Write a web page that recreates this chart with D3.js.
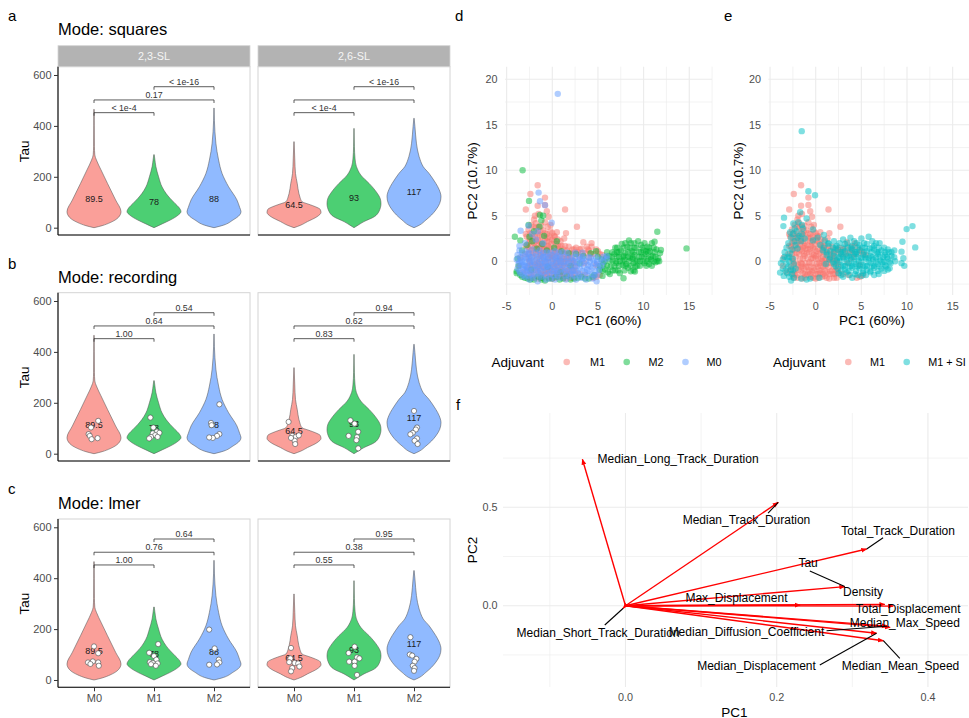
<!DOCTYPE html>
<html><head><meta charset="utf-8"><title>chart</title>
<script src="https://cdn.jsdelivr.net/npm/d3@7/dist/d3.min.js"></script>
<style>
html,body{margin:0;padding:0;background:#fff;}
svg text{font-family:"Liberation Sans",Arial,Helvetica,sans-serif;}
</style></head><body>
<svg id="chart" width="969" height="718" xmlns="http://www.w3.org/2000/svg"></svg>
<script>
// ---------------- DATA ----------------
const facetNames = ["2,3-SL", "2,6-SL"];
const groupNames = ["M0", "M1", "M2"];
const violinColors = ["#F8766D", "#00BA38", "#619CFF"];
const tauTicks = [0, 200, 400, 600];
const medians = [[89.5, 78, 88], [64.5, 93, 117]];

// violin density profiles: [Tau, relative half-width]
const prof23M0 = [[0,0],[8,0.3],[20,0.6],[40,0.9],[63,1],[109,0.8],[174,0.5],[227,0.26],[266,0.09],[286,0.03],[320,0.015],[400,0.01],[465,0.006]];
const prof23M1 = [[0,0],[15,0.3],[30,0.6],[50,0.9],[63,1],[80,0.92],[95,0.78],[115,0.6],[134,0.45],[160,0.3],[200,0.17],[240,0.07],[270,0.03],[287,0.008]];
const prof23M2 = [[0,0],[10,0.35],[30,0.7],[50,0.95],[63,1],[80,0.95],[109,0.85],[161,0.54],[213,0.3],[266,0.17],[300,0.11],[332,0.07],[377,0.035],[420,0.015],[470,0.005]];
const prof26M0 = [[0,0],[10,0.25],[24,0.5],[43,0.85],[60,1],[72,0.97],[82,0.8],[92,0.55],[102,0.3],[120,0.22],[135,0.18],[174,0.12],[213,0.055],[266,0.03],[338,0.005]];
const prof26M1 = [[0,0],[10,0.15],[24,0.37],[43,0.75],[65,0.93],[95,1],[115,0.97],[134,0.87],[155,0.72],[174,0.56],[190,0.4],[207,0.25],[225,0.15],[240,0.09],[270,0.04],[320,0.015],[390,0.005]];
const prof26M2 = [[0,0],[10,0.2],[30,0.44],[50,0.65],[70,0.81],[95,0.95],[122,1],[150,0.93],[174,0.81],[195,0.68],[213,0.56],[240,0.34],[260,0.25],[279,0.19],[305,0.13],[332,0.09],[397,0.035],[430,0.005]];
const violinProfiles = [[prof23M0, prof23M1, prof23M2], [prof26M0, prof26M1, prof26M2]];

const comparisons = [[0, 1], [0, 2], [1, 2]];
const bracketTau = [452, 502, 554];
const pSquares = [["< 1e-4", "0.17", "< 1e-16"], ["< 1e-4", "", "< 1e-16"]];
const pRecording = [["1.00", "0.64", "0.54"], ["0.83", "0.62", "0.94"]];
const pLmer = [["1.00", "0.76", "0.64"], ["0.55", "0.38", "0.95"]];

// per-recording points: [Tau, jitter (category units)]
const recPoints = [
  [
    [[129,.07],[103,-.05],[77,-.09],[70,-.07],[57,-.04],[61,.06]],
    [[142,-.06],[103,-.01],[87,.05],[82,.09],[80,-.02],[73,.02],[66,-.05],[60,-.08],[66,.06]],
    [[194,.09],[121,-.05],[112,-.04],[77,.09],[70,.05],[62,-.02],[64,-.08]]
  ],
  [
    [[125,-.09],[70,-.03],[66,.03],[72,.08],[51,.01],[38,.02],[62,-.05]],
    [[131,-.06],[118,.01],[86,.07],[70,-.09],[65,.05],[53,.04],[21,.07]],
    [[168,0],[103,.05],[95,.03],[82,-.02],[76,-.06],[60,.05],[51,.01],[38,.06]]
  ]
];
const lmerPoints = [
  [
    [[132,0],[105,.07],[69,-.1],[73,-.02],[69,.07],[56,.08],[63,-.06]],
    [[141,.07],[107,-.08],[94,0],[80,.04],[70,-.07],[67,-.02],[65,.06],[62,-.05],[56,.03]],
    [[198,-.08],[124,.01],[80,.08],[69,.09],[61,.05],[60,-.08]]
  ],
  [
    [[126,-.05],[85,-.06],[67,.01],[65,.07],[53,.09],[47,-.03],[34,-.05],[70,-.08]],
    [[131,.01],[106,-.09],[89,.05],[72,-.08],[72,.01],[85,.09],[56,.01],[20,.05]],
    [[168,-.06],[100,-.07],[96,-.03],[83,.04],[72,.01],[56,-.02],[47,.01],[36,0]]
  ]
];

// PCA scores
const pcaM1 = [
[-1.6,8.36],[-2.4,7.4],[-0.8,7.0],[-2.9,5.7],[1.4,5.7],[2.7,3.8],[1.5,3.1],[1.3,2.5],[3.4,2.1],[4.3,2.0],[4.3,1.6],[-0.6,5.5],[-0.8,6.2],[-0.4,4.9],[-1.5,5.2],[-1.6,6.1],[-2.0,4.6],[-0.2,4.0],
[-2.6,3.5],[-2.2,3.0],[-1.8,3.6],[-1.4,2.9],[-1.0,3.4],[-0.6,3.0],[-0.2,3.3],[0.2,2.8],[0.6,2.4],[-2.5,2.5],[-2.0,2.0],[-1.6,2.4],[-1.2,2.0],[-0.8,2.5],[-0.4,2.1],[0.0,2.4],[0.4,1.9],[0.8,1.6],[1.2,1.3],[-2.7,1.6],[-2.3,1.2],[-1.9,1.5],[-1.5,1.1],[-1.1,1.4],[-0.7,1.0],[-0.3,1.5],[0.1,1.1],[0.5,0.9],[0.9,1.0],[1.6,1.2],[2.0,0.9],[2.4,1.3],[2.8,1.0],[3.2,1.4],[3.6,0.9],[4.0,1.2],[4.5,0.8],[5.0,1.1],[5.5,0.7],[1.8,1.6],[2.6,1.5],[3.8,1.6],[-3.0,0.8],[-3.5,0.4],[-1.8,4.2],[-1.2,3.9],[-0.8,4.3],[-2.3,4.0],[-2.9,3.0],[0.5,3.2],[-1.9,5.0],
[-3.6,-0.5],[-3.2,-1.2],[-2.0,-1.8],[-1.0,-1.5],[0.0,-1.9],[1.0,-1.6],[2.0,-1.8],[3.0,-1.4],[4.5,-1.8],[-0.5,0.3],[0.5,-0.5],[1.5,0.2],[-1.5,-0.3],[-2.5,0.0],[2.5,-0.6],[3.5,-0.2],[4.8,-0.4],
[-2.4,-0.4],[-1.9,-0.9],[-1.4,-1.3],[-0.9,-0.6],[-0.4,-1.1],[0.1,-0.3],[0.6,-1.0],[1.1,-0.5],[1.6,-1.1],[2.1,-0.2],[-2.2,0.5],[-1.7,0.2],[-1.2,0.6],[-0.7,-0.1],[-0.2,0.7],[0.3,0.2],[0.8,0.5],[1.3,-0.2],[1.8,0.4],[2.3,0.1],[-2.0,-1.5],[-1.5,-1.9],[-0.5,-1.7],[0.5,-1.3],[1.5,-1.9],[2.5,-1.3],[-1.0,0.9],[0.0,0.6],[1.0,0.1],[-2.8,-1.0],[-0.2,-0.7],[0.7,-1.7],[1.9,-1.4],[-1.3,-0.8],
[-2.1,2.6],[-1.3,3.3],[-0.5,2.6],[-1.7,1.8],[-0.9,1.8],[-0.1,1.9],[-2.6,2.0],[-1.4,1.5],[0.3,1.4],[-0.6,1.4],[-2.1,0.9],[-0.3,0.4],[0.7,0.0],[-1.1,-0.2],[1.4,0.8],[-1.9,-0.4],[0.2,-1.4],[-0.8,-1.2],[1.2,-1.2],[-2.5,-1.5],[2.2,-1.0],[4.0,0.4],[3.0,0.5],[5.2,-1.5],[3.6,-1.5],[4.85,-1.7],
[-2.0,3.8],[-1.5,3.8],[-0.5,3.8],[-2.4,3.1],[-1.6,3.1],[-0.8,3.1],[0.0,3.1],[-2.8,2.7],[-1.9,2.7],[-1.1,2.7],[-0.3,2.7],[0.3,2.7],
[-2.4,2.2],[-1.8,2.2],[-1.4,2.2],[-0.6,2.2],[0.2,2.2],[0.9,2.2],[-2.9,1.7],[-2.3,1.7],[-1.2,1.7],[-0.5,1.7],[0.6,1.7],[1.0,1.7],[1.4,1.7],
[-2.5,1.3],[-1.7,1.3],[-0.9,1.3],[-0.1,1.3],[0.7,1.3],[2.2,1.3],[3.0,1.3],[3.9,1.3],[4.8,1.3],
[-2.6,0.8],[-1.8,0.8],[-1.3,0.8],[-0.4,0.8],[0.3,0.8],[1.2,0.8],[1.9,0.8],[2.6,0.8],[3.3,0.8],[4.2,0.8],[5.2,0.8],
[-2.6,0.3],[-1.4,0.3],[-0.9,0.3],[0.0,0.3],[0.6,0.3],[1.1,0.3],[1.6,0.3],[2.1,0.3],
[-2.2,-0.2],[-1.6,-0.2],[-0.4,-0.2],[0.4,-0.2],[0.9,-0.2],[1.7,-0.2],[2.4,-0.2],
[-2.7,-0.6],[-1.6,-0.6],[-1.1,-0.6],[-0.5,-0.6],[0.2,-0.6],[0.8,-0.6],[1.4,-0.6],[2.0,-0.6],
[-2.3,-1.0],[-1.6,-1.0],[-0.7,-1.0],[-0.1,-1.0],[0.4,-1.0],[1.0,-1.0],[1.8,-1.0],[2.4,-1.0],
[-2.3,-1.4],[-1.2,-1.4],[-0.6,-1.4],[0.0,-1.4],[0.8,-1.4],[1.5,-1.4],[2.1,-1.4],
[-2.4,-1.8],[-1.2,-1.8],[-0.3,-1.8],[0.3,-1.8],[1.2,-1.8],[2.3,-1.8]
];
const pcaM2 = [
[-3.25,10.0],[-2.55,6.64],[-1.0,5.0],[-1.35,5.1],[-2.6,4.0],[-4.1,2.7],[14.7,1.42],[11.5,3.25],[7.8,-1.86],[9.05,-1.13],
[5.2,-0.9],[5.6,-0.3],[5.9,0.4],[6.1,-1.2],[6.4,-0.6],[6.6,0.1],[6.8,0.8],[7.0,-0.2],[7.2,-1.0],[7.3,0.5],[7.5,1.2],[7.7,-0.4],[7.9,0.2],[8.0,0.9],[8.2,1.6],[8.3,-0.7],[8.5,0.4],[8.6,2.0],[8.7,1.1],[8.9,-0.2],[9.0,0.7],[9.2,1.5],[9.3,0.1],[9.5,1.0],[9.6,-0.5],[9.7,1.8],[9.8,0.5],[10.0,1.2],[10.1,-0.2],[10.2,0.8],[10.4,1.6],[10.5,0.3],[10.7,1.1],[10.9,2.0],[11.0,0.6],[11.2,2.15],[11.3,-0.1],[11.4,1.3],[11.6,0.33],[11.8,0.9],[11.9,1.24],[11.5,0.0],[10.6,-0.3],[6.0,1.0],[6.9,1.5],[7.6,1.9],[8.4,2.3],[9.4,2.2],[5.0,0.5],[4.6,-1.5],[5.5,-1.6],[6.3,-1.4],
[-3.9,-1.1],[-3.5,-1.5],[-3.0,-1.8],[-2.4,-2.0],[-1.6,-1.7],[-0.8,-2.1],[0.0,-1.9],[0.8,-2.0],[1.6,-1.6],[2.4,-1.9],[3.2,-1.7],[4.0,-1.9],[-3.7,-0.5],[-3.8,0.3],[-3.3,1.2],[-2.8,1.8],[-2.2,2.2],[-1.7,1.4],[-1.1,1.9],[-0.6,1.2],[0.2,1.5],[1.0,1.1],[1.8,0.9],[2.6,0.8],[3.4,0.6],[4.2,0.9],[4.8,1.1],[-2.0,3.3],[-1.4,3.8],[-0.9,2.8],[-3.5,2.3],[-2.5,2.7],[-1.2,4.5],[0.5,2.2],[2.0,-0.5],[3.0,-0.2],[-0.5,-0.6],[-2.3,-0.9],[0.9,-1.2],
[5.8,-0.9],[6.6,-1.0],[7.4,0.0],[8.1,-0.3],[8.8,0.3],[9.9,0.0],[10.8,0.2],[7.1,1.0],[7.8,0.6],[9.1,-0.6],[6.2,0.6],[5.4,0.2],[8.6,-1.1],[10.3,1.1],[11.1,1.5],[7.4,-1.3],[-3.9,-1.3],[-1.2,-2.0],
[5.5,-1.0],[6.9,-1.0],[7.9,-1.0],[8.9,-1.0],
[5.2,-0.5],[6.0,-0.5],[6.8,-0.5],[7.3,-0.5],[8.0,-0.5],[8.6,-0.5],[9.3,-0.5],[10.3,-0.5],[10.9,-0.5],
[5.7,0.0],[6.3,0.0],[7.0,0.0],[7.7,0.0],[8.4,0.0],[9.1,0.0],[9.6,0.0],[10.4,0.0],[11.1,0.0],[11.7,0.0],
[6.5,0.5],[7.1,0.5],[7.8,0.5],[8.3,0.5],[8.8,0.5],[9.5,0.5],[10.1,0.5],[10.8,0.5],[11.3,0.5],
[6.6,1.0],[7.3,1.0],[8.3,1.0],[8.9,1.0],[9.7,1.0],[10.5,1.0],[11.2,1.0],
[7.1,1.5],[7.8,1.5],[8.5,1.5],[9.0,1.5],[9.9,1.5],[10.6,1.5],[8.0,2.0],[9.0,2.0],[10.1,2.0],
[-3.3,-1.7],[-2.7,-1.9],[-2.0,-2.0],[-1.2,-1.8],[-0.4,-1.9],[0.4,-1.7],[1.2,-1.9],[2.0,-2.0],[2.8,-1.8],[3.6,-1.9],[4.4,-1.7]
];
const pcaM0 = [
[0.6,18.4],[-1.5,7.55],[-1.35,6.6],[-0.8,6.17],[-0.07,4.23],[-3.47,3.36],[-2.6,3.9],[-2.2,3.0],[-1.8,2.4],[-3.0,2.0],[-1.0,2.0],[5.95,0.58],[4.85,-2.2],[-1.6,3.3],[-3.6,1.7],
[-3.6,1.2],[-2.9,1.1],[-2.2,1.3],[-1.4,1.2],[-0.6,1.0],[0.3,1.1],[1.1,1.0],
[-3.8,0.7],[-3.2,0.6],[-2.6,0.8],[-2.0,0.6],[-1.3,0.7],[-0.7,0.5],[0.0,0.7],[0.6,0.6],[1.3,0.5],[2.1,0.4],[2.9,0.5],[4.2,0.4],[5.6,0.5],
[-3.9,0.2],[-3.4,0.1],[-2.8,0.3],[-2.3,0.1],[-1.7,0.2],[-1.1,0.1],[-0.5,0.3],[0.1,0.1],[0.8,0.2],[1.5,0.0],[2.2,0.1],[3.0,0.2],[3.7,0.0],[4.5,0.1],[5.3,0.2],[6.0,0.3],
[-3.7,-0.3],[-3.1,-0.4],[-2.5,-0.2],[-1.9,-0.4],[-1.3,-0.3],[-0.8,-0.2],[-0.2,-0.4],[0.4,-0.3],[1.0,-0.4],[1.7,-0.3],[2.4,-0.5],[3.1,-0.3],[3.9,-0.4],[4.6,-0.2],[5.4,-0.5],
[-3.8,-0.8],[-3.2,-0.9],[-2.7,-0.7],[-2.1,-0.9],[-1.5,-0.8],[-0.9,-0.7],[-0.3,-0.9],[0.3,-0.8],[0.9,-0.9],[1.6,-0.8],[2.3,-1.0],[3.0,-0.8],[3.8,-0.9],[4.4,-0.7],[5.1,-1.0],
[-3.5,-1.3],[-2.9,-1.2],[-2.3,-1.4],[-1.6,-1.3],[-1.0,-1.2],[-0.3,-1.4],[0.5,-1.3],[1.2,-1.2],[2.0,-1.4],[2.8,-1.3],[3.6,-1.2],[4.3,-1.4],[4.9,-1.5],
[-3.0,-1.7],[-2.1,-1.8],[-1.2,-1.7],[-0.2,-1.9],[0.9,-1.8],[2.0,-1.7],[3.2,-1.8],[4.4,-1.9],
[-1.6,-2.2],[-3.3,-0.1],[-2.0,-0.1],[-0.5,-0.1],[1.2,-0.1],[2.7,-0.1],[-3.0,-0.5],[-1.7,-1.0],[0.0,-1.1],[1.9,-1.1],[-2.5,0.5],[-1.0,0.5],[0.4,0.4],[-2.7,-1.0],[-0.6,-0.6],[3.4,0.3],[4.9,-0.3],
[-3.3,0.95],[-2.6,0.95],[-1.8,0.95],[-1.0,0.95],[-0.2,0.95],[0.7,0.95],[1.6,0.95],[2.5,0.95],[3.3,0.95],
[-3.5,0.45],[-2.9,0.45],[-2.3,0.45],[-1.6,0.45],[-1.0,0.45],[-0.4,0.45],[0.3,0.45],[0.9,0.45],[1.7,0.45],[2.5,0.45],[3.3,0.45],[4.0,0.45],[4.8,0.45],
[-3.6,-0.05],[-3.0,-0.05],[-2.4,-0.05],[-1.4,-0.05],[-0.8,-0.05],[-0.1,-0.05],[0.5,-0.05],[0.9,-0.05],[1.8,-0.05],[2.4,-0.05],[3.3,-0.05],[4.1,-0.05],[4.9,-0.05],[5.6,-0.05],
[-3.4,-0.55],[-2.8,-0.55],[-2.2,-0.55],[-1.6,-0.55],[-1.0,-0.55],[-0.4,-0.55],[0.1,-0.55],[0.7,-0.55],[1.3,-0.55],[2.0,-0.55],[2.7,-0.55],[3.5,-0.55],[4.2,-0.55],[5.0,-0.55],
[-3.6,-1.05],[-3.0,-1.05],[-2.4,-1.05],[-1.3,-1.05],[-0.6,-1.05],[0.2,-1.05],[0.6,-1.05],[1.4,-1.05],[2.2,-1.05],[2.6,-1.05],[3.3,-1.05],[4.0,-1.05],[4.7,-1.05],
[-3.2,-1.55],[-2.6,-1.55],[-2.0,-1.55],[-1.4,-1.55],[-0.7,-1.55],[0.1,-1.55],[0.6,-1.55],[1.5,-1.55],[2.4,-1.55],[3.0,-1.55],[3.8,-1.55],[4.6,-1.55],
[-2.5,-2.0],[-0.7,-2.0],[0.3,-2.0],[1.5,-2.0],[2.6,-2.0],[3.7,-2.0]
];
const pcaM1SI = [
[-1.53,14.3],[-0.8,7.7],[-0.07,7.26],[-3.47,4.8],[-3.54,3.87],[9.96,3.54],[10.6,3.87],[10.9,1.53],[9.5,2.15],[9.6,0.33],[9.4,1.06],[8.1,-0.77],[-1.7,5.4],[-2.45,4.16],[-2.7,-2.1],[-3.9,-1.24],[9.4,-0.2],[9.7,-0.5],[8.7,0.0],[-1.9,4.3],[-1.0,4.7],[-1.5,4.0],
[-3.8,-0.2],[-3.4,0.5],[-3.0,-0.6],[-2.8,0.9],[-3.2,1.5],[-2.6,-1.4],[-2.3,2.2],[-3.6,0.2],[-2.9,-1.7],[-2.2,-0.8],[-3.3,-1.0],[-2.5,0.3],[-1.8,2.8],[-2.1,3.3],[-1.5,3.0],[-1.2,2.5],[-2.7,2.6],[-3.0,2.0],[-2.4,-1.8],[-1.6,-1.9],[-1.0,-2.0],[-2.0,1.4],[-3.5,-1.6],[-2.6,1.3],[-2.3,3.6],[-1.4,3.6],[-2.8,3.2],[0.2,2.6],[0.9,2.9],[-0.3,3.5],[-2.9,0.0],[-2.4,-0.3],[-3.1,0.4],[-2.7,-0.9],
[1.0,2.3],[2.0,2.2],[3.0,2.4],[4.2,2.2],[5.0,2.5],[5.8,2.7],
[0.5,1.8],[1.4,1.9],[2.3,1.7],[3.2,1.9],[4.0,1.7],[4.8,1.8],[5.6,1.9],[6.4,1.7],
[0.8,1.2],[1.6,1.1],[2.4,1.3],[3.2,1.1],[4.0,1.3],[4.8,1.2],[5.6,1.1],[6.4,1.3],[7.2,1.2],[7.9,1.3],
[1.2,0.7],[2.0,0.6],[2.8,0.8],[3.6,0.6],[4.4,0.8],[5.2,0.7],[6.0,0.6],[6.8,0.8],[7.6,0.7],[8.3,0.6],
[1.5,0.2],[2.3,0.1],[3.1,0.3],[3.9,0.2],[4.7,0.1],[5.5,0.3],[6.3,0.2],[7.1,0.1],[7.9,0.3],
[2.0,-0.3],[2.8,-0.4],[3.6,-0.2],[4.4,-0.3],[5.2,-0.4],[6.0,-0.2],[6.8,-0.3],[7.6,-0.4],[8.2,-0.2],
[2.4,-0.8],[3.2,-0.9],[4.0,-0.7],[4.8,-0.8],[5.6,-0.9],[6.4,-0.7],[7.2,-0.8],[7.9,-0.9],
[2.5,-1.3],[3.4,-1.2],[4.3,-1.4],[5.2,-1.3],[6.0,-1.2],[6.9,-1.4],
[3.0,-1.7],[4.0,-1.8],[5.0,-1.6],
[1.9,1.5],[2.7,1.0],[3.5,1.5],[4.3,1.0],[5.1,1.5],[5.9,1.4],[6.7,1.0],[2.6,0.4],[3.4,0.5],[4.2,0.5],[5.0,0.4],[5.8,0.4],[6.6,0.4],[7.4,0.5],[3.2,-0.5],[4.0,-0.5],[4.8,-0.5],[5.6,-0.5],[6.4,-0.5],[7.3,-0.1],[8.0,1.0],[8.6,1.2],[7.0,2.0],[6.2,2.2],[2.6,2.0],[3.8,2.6],[1.1,-0.3],[-0.3,2.3],[0.4,-1.8],[-0.6,-1.9],
[1.4,2.0],[3.5,2.0],[4.5,2.0],[5.3,2.0],[6.6,2.0],
[0.9,1.5],[2.2,1.5],[3.0,1.5],[3.9,1.5],[4.6,1.5],[5.4,1.5],[6.2,1.5],[6.9,1.5],[7.5,1.5],
[1.2,1.0],[2.0,1.0],[3.0,1.0],[3.8,1.0],[4.5,1.0],[5.3,1.0],[6.1,1.0],[6.9,1.0],[7.6,1.0],[8.3,1.0],
[1.6,0.45],[2.4,0.45],[3.0,0.45],[3.8,0.45],[4.6,0.45],[5.4,0.45],[6.2,0.45],[7.0,0.45],[7.8,0.45],[8.6,0.45],
[1.9,-0.05],[2.6,-0.05],[3.4,-0.05],[4.2,-0.05],[5.0,-0.05],[5.8,-0.05],[6.6,-0.05],[7.5,-0.05],[8.1,-0.05],
[2.2,-0.55],[3.0,-0.55],[3.8,-0.55],[4.6,-0.55],[5.4,-0.55],[6.2,-0.55],[7.0,-0.55],[7.7,-0.55],
[2.8,-1.05],[3.6,-1.05],[4.4,-1.05],[5.2,-1.05],[6.0,-1.05],[6.8,-1.05],[7.5,-1.05],
[2.8,-1.5],[3.7,-1.5],[4.6,-1.5],[5.5,-1.5],[6.4,-1.5],
[-3.6,-0.8],[-3.2,-0.3],[-2.9,0.5],[-3.4,1.0],[-2.5,-1.0],[-3.1,-1.3],[-2.2,1.8],[-2.0,2.6],[-1.6,2.2],[-2.5,3.0]
];
const pcXTicks = [-5, 0, 5, 10, 15];
const pcXTickLabels = ["-5", "0", "5", "10", "15"];
const pcYTicks = [0, 5, 10, 15, 20];
const pcGridMinor = [-2.5, 2.5, 7.5, 12.5, 17.5];

// loadings biplot
const varNames = ["Median_Long_Track_Duration","Median_Track_Duration","Total_Track_Duration","Tau","Density","Max_Displacement","Total_Displacement","Median_Max_Speed","Median_Diffusion_Coefficient","Median_Short_Track_Duration","Median_Displacement","Median_Mean_Speed"];
const loadPC1 = [-0.057, 0.202, 0.319, 0.290, 0.343, 0.231, 0.354, 0.350, 0.346, -0.003, 0.332, 0.341];
const loadPC2 = [0.744, 0.525, 0.288, 0.097, 0.007, 0.003, -0.002, -0.110, -0.104, -0.013, -0.140, -0.178];
const labelPC1 = [0.0696, 0.160, 0.3606, 0.2415, 0.3143, 0.1468, 0.3738, 0.3694, 0.160, -0.0362, 0.1733, 0.3638];
const labelPC2 = [0.744, 0.435, 0.381, 0.2155, 0.0711, 0.0407, -0.0142, -0.0854, -0.1321, -0.1372, -0.3064, -0.3028];
const leaderPC1 = [null, 0.1886, 0.3407, 0.2438, null, null, null, null, 0.2659, -0.0274, 0.257, 0.3628];
const leaderPC2 = [null, 0.4705, 0.3455, 0.1763, null, null, null, null, -0.127, -0.098, -0.3013, -0.2673];
const fXMajor = [0, 0.2, 0.4], fXMinor = [-0.1, 0.1, 0.3];
const fYMajor = [0, 0.5], fYMinor = [-0.25, 0.25, 0.75];

// ---------------- DRAW ----------------
const svg = d3.select("#chart");
svg.append("rect").attr("width", 969).attr("height", 718).attr("fill", "#fff");
const defs = svg.append("defs");
defs.append("marker").attr("id", "arrowhead").attr("viewBox", "0 0 10 10")
  .attr("refX", 9).attr("refY", 5).attr("markerWidth", 6).attr("markerHeight", 6)
  .attr("markerUnits", "userSpaceOnUse").attr("orient", "auto")
  .append("path").attr("d", "M0,1 L10,5 L0,9 Z").attr("fill", "#FF0000");

const facetRanges = [[58, 250], [258, 450]];
const PANEL_H = 168.3;

function violinRow(o) {
  const top = o.top, bottom = top + PANEL_H;
  const y = d3.scaleLinear().domain([-28.7, 632.6]).range([bottom, top]);
  const g = svg.append("g");
  g.append("text").attr("x", 8).attr("y", o.letterY).attr("font-size", 15).attr("fill", "#000").text(o.letter);
  g.append("text").attr("x", 58).attr("y", o.titleY).attr("font-size", 16.5).attr("fill", "#000").text(o.title);
  g.append("text").attr("transform", `translate(29,${(y(0) + y(600)) / 2}) rotate(-90)`)
    .attr("text-anchor", "middle").attr("font-size", 13.5).attr("fill", "#000").text("Tau");

  facetRanges.forEach((fr, fi) => {
    const x = d3.scalePoint().domain(groupNames).range(fr).padding(0.6);
    const half = x.step() * 0.45;
    const fg = g.append("g");
    fg.append("rect").attr("x", fr[0]).attr("y", top).attr("width", fr[1] - fr[0]).attr("height", PANEL_H)
      .attr("fill", "none").attr("stroke", "#d4d4d4").attr("stroke-width", 1);
    if (o.strip) {
      fg.append("rect").attr("x", fr[0]).attr("y", top - 21).attr("width", fr[1] - fr[0]).attr("height", 21)
        .attr("fill", "#b3b3b3").attr("stroke", "#d4d4d4").attr("stroke-width", 0.8);
      fg.append("text").attr("x", (fr[0] + fr[1]) / 2).attr("y", top - 6.8).attr("text-anchor", "middle")
        .attr("font-size", 10.8).attr("fill", "#f5f5f5").text(facetNames[fi]);
    }
    groupNames.forEach((gn, gi) => {
      const cx = x(gn);
      const area = d3.area().curve(d3.curveMonotoneY)
        .y(d => y(d[0])).x0(d => cx - half * d[1]).x1(d => cx + half * d[1]);
      fg.append("path").attr("d", area(violinProfiles[fi][gi]))
        .attr("fill", violinColors[gi]).attr("fill-opacity", 0.7)
        .attr("stroke", "#555").attr("stroke-width", 0.55);
    });
    groupNames.forEach((gn, gi) => {
      fg.append("text").attr("x", x(gn)).attr("y", y(medians[fi][gi]) - 3)
        .attr("text-anchor", "middle").attr("font-size", 9).attr("fill", "#1a1a1a").text(medians[fi][gi]);
    });
    if (o.pts) {
      groupNames.forEach((gn, gi) => {
        o.pts[fi][gi].forEach(p => {
          fg.append("circle").attr("cx", x(gn) + p[1] * x.step()).attr("cy", y(p[0])).attr("r", 2.6)
            .attr("fill", "#fff").attr("stroke", "#444").attr("stroke-width", 0.6);
        });
      });
    }
    comparisons.forEach((c, ci) => {
      const xa = x(groupNames[c[0]]), xb = x(groupNames[c[1]]);
      const yb = y(bracketTau[ci]), yt = y(bracketTau[ci] - 12);
      fg.append("path").attr("d", `M${xa},${yt}V${yb}H${xb}V${yt}`).attr("fill", "none")
        .attr("stroke", "#333").attr("stroke-width", 0.8);
      fg.append("text").attr("x", (xa + xb) / 2).attr("y", yb - 1.8).attr("text-anchor", "middle")
        .attr("font-size", 8.8).attr("fill", "#333").text(o.pv[fi][ci]);
    });
    fg.append("line").attr("x1", fr[0]).attr("x2", fr[1]).attr("y1", bottom).attr("y2", bottom)
      .attr("stroke", "#000").attr("stroke-width", 1.1);
    if (fi === 0) {
      fg.append("line").attr("x1", fr[0]).attr("x2", fr[0]).attr("y1", top).attr("y2", bottom)
        .attr("stroke", "#000").attr("stroke-width", 1.1);
      const ax = fg.append("g").attr("transform", `translate(${fr[0]},0)`)
        .call(d3.axisLeft(y).tickValues(tauTicks).tickSize(4).tickPadding(2.5));
      ax.select(".domain").remove();
      ax.selectAll(".tick line").attr("stroke", "#333");
      ax.selectAll(".tick text").attr("fill", "#4d4d4d").attr("font-size", 11).attr("font-family", null);
    }
    if (o.xaxis) {
      const ax = fg.append("g").attr("transform", `translate(0,${bottom})`)
        .call(d3.axisBottom(x).tickSize(4).tickPadding(2.5));
      ax.select(".domain").remove();
      ax.selectAll(".tick line").attr("stroke", "#333");
      ax.selectAll(".tick text").attr("fill", "#4d4d4d").attr("font-size", 11).attr("font-family", null);
    }
  });
}

violinRow({top: 66.7, title: "Mode: squares", titleY: 35, letter: "a", letterY: 21, pv: pSquares, pts: null, strip: true, xaxis: false});
violinRow({top: 292.7, title: "Mode: recording", titleY: 283, letter: "b", letterY: 269, pv: pRecording, pts: recPoints, strip: false, xaxis: false});
violinRow({top: 519, title: "Mode: lmer", titleY: 508.5, letter: "c", letterY: 494, pv: pLmer, pts: lmerPoints, strip: false, xaxis: true});

// ---- scatter panels d, e ----
function scatterPanel(o) {
  const g = svg.append("g");
  const x = d3.scaleLinear().domain([-5.18, 17.49]).range([o.left, o.left + 207]);
  const y = d3.scaleLinear().domain([-3.70, 21.38]).range([295, 66.7]);
  const [x0, x1] = x.range(), [y0, y1] = y.range();
  pcGridMinor.forEach(v => {
    g.append("line").attr("x1", x(v)).attr("x2", x(v)).attr("y1", y0).attr("y2", y1).attr("stroke", "#ebebeb").attr("stroke-width", 0.6);
    g.append("line").attr("x1", x0).attr("x2", x1).attr("y1", y(v)).attr("y2", y(v)).attr("stroke", "#ebebeb").attr("stroke-width", 0.6);
  });
  pcXTicks.forEach(v => g.append("line").attr("x1", x(v)).attr("x2", x(v)).attr("y1", y0).attr("y2", y1).attr("stroke", "#ebebeb").attr("stroke-width", 1.1));
  pcYTicks.forEach(v => g.append("line").attr("x1", x0).attr("x2", x1).attr("y1", y(v)).attr("y2", y(v)).attr("stroke", "#ebebeb").attr("stroke-width", 1.1));
  o.series.forEach(s => {
    g.append("g").selectAll("circle").data(s.data).join("circle")
      .attr("cx", d => x(d[0])).attr("cy", d => y(d[1])).attr("r", 3.2)
      .attr("fill", s.color).attr("fill-opacity", 0.5);
  });
  pcXTicks.forEach((v, i) => g.append("text").attr("x", x(v)).attr("y", 309.5).attr("text-anchor", "middle")
    .attr("font-size", 10.8).attr("fill", "#4d4d4d").text(pcXTickLabels[i]));
  pcYTicks.forEach(v => g.append("text").attr("x", x0 - 7.5).attr("y", y(v)).attr("dy", "0.35em").attr("text-anchor", "end")
    .attr("font-size", 10.8).attr("fill", "#4d4d4d").text(v));
  g.append("text").attr("x", (x0 + x1) / 2).attr("y", 325).attr("text-anchor", "middle").attr("font-size", 13.5).attr("fill", "#000").text("PC1 (60%)");
  g.append("text").attr("transform", `translate(${o.yTitleX},${(y0 + y1) / 2}) rotate(-90)`).attr("dy", "0.35em")
    .attr("text-anchor", "middle").attr("font-size", 13.5).attr("fill", "#000").text("PC2 (10.7%)");
  g.append("text").attr("x", o.letterX).attr("y", 21).attr("font-size", 15).attr("fill", "#000").text(o.letter);
  g.append("text").attr("x", o.legX).attr("y", 362).attr("dy", "0.35em").attr("font-size", 13.5).attr("fill", "#000").text("Adjuvant");
  o.series.forEach((s, i) => {
    g.append("circle").attr("cx", o.legItems[i][0]).attr("cy", 362).attr("r", 3.3).attr("fill", s.color).attr("fill-opacity", 0.5);
    g.append("text").attr("x", o.legItems[i][1]).attr("y", 362).attr("dy", "0.35em").attr("font-size", 10.8).attr("fill", "#000").text(s.name);
  });
}
scatterPanel({left: 505, letter: "d", letterX: 455, yTitleX: 472, legX: 491.5,
  legItems: [[566.7, 590], [626.7, 648.5], [685.5, 706.5]],
  series: [{name: "M1", color: "#F8766D", data: pcaM1}, {name: "M2", color: "#00BA38", data: pcaM2}, {name: "M0", color: "#619CFF", data: pcaM0}]});
scatterPanel({left: 768.4, letter: "e", letterX: 724, yTitleX: 738.5, legX: 773,
  legItems: [[848.3, 870], [906.7, 928.3]],
  series: [{name: "M1", color: "#F8766D", data: pcaM1}, {name: "M1 + SI", color: "#00BFC4", data: pcaM1SI}]});

// ---- biplot f ----
(function () {
  const g = svg.append("g");
  const x = d3.scaleLinear().domain([-0.162, 0.453]).range([503, 968]);
  const y = d3.scaleLinear().domain([-0.413, 0.979]).range([687, 413]);
  const [x0, x1] = x.range(), [y0, y1] = y.range();
  fXMinor.forEach(v => g.append("line").attr("x1", x(v)).attr("x2", x(v)).attr("y1", y0).attr("y2", y1).attr("stroke", "#ebebeb").attr("stroke-width", 0.6));
  fYMinor.forEach(v => g.append("line").attr("x1", x0).attr("x2", x1).attr("y1", y(v)).attr("y2", y(v)).attr("stroke", "#ebebeb").attr("stroke-width", 0.6));
  fXMajor.forEach(v => g.append("line").attr("x1", x(v)).attr("x2", x(v)).attr("y1", y0).attr("y2", y1).attr("stroke", "#ebebeb").attr("stroke-width", 1.1));
  fYMajor.forEach(v => g.append("line").attr("x1", x0).attr("x2", x1).attr("y1", y(v)).attr("y2", y(v)).attr("stroke", "#ebebeb").attr("stroke-width", 1.1));
  fXMajor.forEach(v => g.append("text").attr("x", x(v)).attr("y", 700.5).attr("text-anchor", "middle").attr("font-size", 10.8).attr("fill", "#4d4d4d").text(d3.format(".1f")(v)));
  fYMajor.forEach(v => g.append("text").attr("x", x0 - 5.5).attr("y", y(v)).attr("dy", "0.35em").attr("text-anchor", "end").attr("font-size", 10.8).attr("fill", "#4d4d4d").text(d3.format(".1f")(v)));
  g.append("text").attr("x", (x0 + x1) / 2 - 1).attr("y", 716.5).attr("text-anchor", "middle").attr("font-size", 13.5).attr("fill", "#000").text("PC1");
  g.append("text").attr("transform", `translate(472,${(y0 + y1) / 2}) rotate(-90)`).attr("dy", "0.35em").attr("text-anchor", "middle").attr("font-size", 13.5).attr("fill", "#000").text("PC2");
  g.append("text").attr("x", 456).attr("y", 410).attr("font-size", 15).attr("fill", "#000").text("f");
  varNames.forEach((n, i) => {
    g.append("line").attr("x1", x(0)).attr("y1", y(0)).attr("x2", x(loadPC1[i])).attr("y2", y(loadPC2[i]))
      .attr("stroke", "#FF0000").attr("stroke-width", 1.4).attr("marker-end", "url(#arrowhead)");
  });
  varNames.forEach((n, i) => {
    if (leaderPC1[i] !== null) {
      g.append("line").attr("x1", x(leaderPC1[i])).attr("y1", y(leaderPC2[i])).attr("x2", x(loadPC1[i])).attr("y2", y(loadPC2[i]))
        .attr("stroke", "#000").attr("stroke-width", 1.1);
    }
  });
  varNames.forEach((n, i) => {
    g.append("text").attr("x", x(labelPC1[i])).attr("y", y(labelPC2[i])).attr("dy", "0.35em")
      .attr("text-anchor", "middle").attr("font-size", 12).attr("fill", "#000").text(n);
  });
})();
</script>
</body></html>
